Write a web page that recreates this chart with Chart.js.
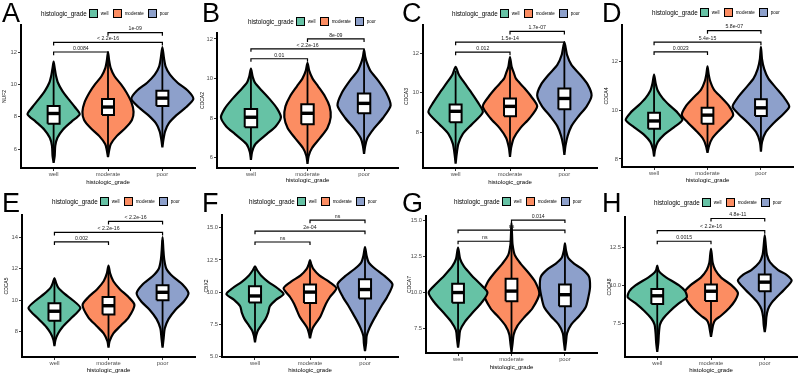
<!DOCTYPE html>
<html>
<head>
<meta charset="utf-8">
<script src="https://cdn.jsdelivr.net/npm/chart.js@4.4.1/dist/chart.umd.min.js"></script>
<style>
  body { margin: 0; background: #fff; width: 803px; height: 381px; position: relative; overflow: hidden;
         font-family: "Liberation Sans", Arial, sans-serif; }
  .panel { position: absolute; }
  .letter { position: absolute; font-size: 27px; line-height: 26px; color: #000; }
  .legend { position: absolute; display: flex; align-items: center; height: 10px; white-space: nowrap; color: #000; }
  .legend .ttl { font-size: 6.3px; margin-right: 2px; }
  .legend .sw { width: 7px; height: 7px; border: 1.5px solid #000; margin-right: 3px; }
  .legend .lab { font-size: 4.5px; margin-right: 4px; }
</style>
</head>
<body>
<script>
const categories = ["well", "moderate", "poor"];
const colours = ["#66C2A5", "#FC8D62", "#8DA0CB"];
const letters = ["A", "B", "C", "D", "E", "F", "G", "H"];
const genes = ["NUF2", "CDCA2", "CDCA3", "CDCA4", "CDCA5", "CBX2", "CDCA7", "CDCA8"];

// y axis limits and tick labels per panel
const yLimits = [[4.83, 13.67], [5.49, 12.3], [6.18, 13.42], [7.67, 13.5], [6.4, 15.4], [4.95, 16.0], [5.83, 15.28], [5.26, 14.5]];
const yTickLabels = [
  ["6", "8", "10", "12"],
  ["6", "8", "10", "12"],
  ["8", "10", "12"],
  ["8", "10", "12"],
  ["8", "10", "12", "14"],
  ["5.0", "7.5", "10.0", "12.5", "15.0"],
  ["7.5", "10.0", "12.5", "15.0"],
  ["7.5", "10.0", "12.5"]
];

// violin outlines: [value, half width]
const violinProfiles = [
  [
    [[5.15,0],[5.6,0.02],[6.2,0.03],[6.7,0.07],[7.2,0.17],[7.7,0.33],[8.15,0.48],[8.6,0.39],[9.1,0.27],[9.6,0.16],[10.1,0.08],[10.6,0.04],[11.0,0.02],[11.4,0]],
    [[5.5,0],[5.9,0.02],[6.3,0.05],[6.8,0.16],[7.3,0.32],[7.8,0.44],[8.3,0.47],[8.9,0.43],[9.5,0.34],[10.0,0.24],[10.5,0.12],[11.0,0.05],[11.5,0.02],[12.0,0]],
    [[6.1,0],[6.6,0.02],[7.1,0.05],[7.6,0.12],[8.1,0.26],[8.6,0.44],[9.1,0.57],[9.6,0.47],[10.1,0.28],[10.6,0.14],[11.1,0.06],[11.6,0.03],[12.3,0]]
  ],
  [
    [[5.9,0],[6.3,0.02],[6.7,0.08],[7.2,0.28],[7.6,0.44],[8.05,0.53],[8.5,0.46],[8.9,0.35],[9.4,0.19],[9.8,0.07],[10.1,0.03],[10.5,0]],
    [[5.7,0],[6.1,0.02],[6.5,0.08],[7.0,0.22],[7.5,0.35],[8.05,0.41],[8.6,0.39],[9.1,0.31],[9.6,0.19],[10.0,0.09],[10.4,0.03],[10.8,0]],
    [[6.2,0],[6.6,0.02],[7.0,0.06],[7.5,0.18],[8.0,0.33],[8.65,0.47],[9.3,0.39],[9.9,0.25],[10.4,0.11],[10.8,0.05],[11.1,0.02],[11.45,0]]
  ],
  [
    [[6.4,0],[6.9,0.02],[7.4,0.05],[7.9,0.13],[8.4,0.3],[9.0,0.5],[9.5,0.41],[10.0,0.29],[10.5,0.16],[10.9,0.06],[11.3,0]],
    [[6.75,0],[7.2,0.02],[7.7,0.07],[8.2,0.19],[8.7,0.36],[9.3,0.5],[9.8,0.39],[10.3,0.24],[10.7,0.11],[11.0,0.07],[11.3,0.03],[11.8,0]],
    [[6.85,0],[7.3,0.02],[7.8,0.06],[8.3,0.13],[8.8,0.26],[9.3,0.41],[9.85,0.5],[10.4,0.43],[10.9,0.29],[11.4,0.13],[11.9,0.05],[12.55,0]]
  ],
  [
    [[8.1,0],[8.4,0.02],[8.7,0.07],[9.0,0.19],[9.3,0.37],[9.6,0.53],[9.9,0.44],[10.2,0.29],[10.5,0.16],[10.8,0.07],[11.1,0.03],[11.46,0]],
    [[8.25,0],[8.55,0.03],[8.85,0.09],[9.15,0.21],[9.5,0.37],[9.8,0.48],[10.15,0.41],[10.5,0.27],[10.85,0.12],[11.2,0.05],[11.5,0.02],[11.8,0]],
    [[8.3,0],[8.7,0.02],[9.1,0.09],[9.5,0.25],[9.85,0.42],[10.15,0.53],[10.5,0.44],[10.9,0.29],[11.3,0.14],[11.7,0.06],[12.1,0.02],[12.6,0]]
  ],
  [
    [[7.1,0],[7.5,0.02],[7.9,0.07],[8.3,0.15],[8.8,0.29],[9.5,0.48],[10.0,0.34],[10.4,0.19],[10.8,0.07],[11.1,0.03],[11.4,0]],
    [[7.0,0],[7.4,0.02],[7.9,0.09],[8.4,0.23],[8.9,0.37],[9.7,0.48],[10.2,0.37],[10.7,0.21],[11.2,0.09],[11.7,0.03],[12.2,0]],
    [[7.0,0],[7.6,0.02],[8.2,0.04],[8.8,0.11],[9.4,0.24],[9.9,0.39],[10.45,0.48],[11.0,0.37],[11.5,0.19],[12.0,0.07],[12.6,0.03],[13.2,0.015],[14.0,0]]
  ],
  [
    [[6.1,0],[6.6,0.02],[7.0,0.05],[7.4,0.11],[7.9,0.19],[8.4,0.24],[8.9,0.27],[9.4,0.38],[9.85,0.52],[10.3,0.41],[10.8,0.24],[11.3,0.11],[11.7,0.04],[12.0,0]],
    [[6.4,0],[6.8,0.02],[7.2,0.05],[7.6,0.11],[8.1,0.19],[8.6,0.24],[9.1,0.29],[9.6,0.36],[10.3,0.48],[10.8,0.35],[11.3,0.17],[11.8,0.06],[12.2,0.02],[12.5,0]],
    [[5.4,0],[6.0,0.02],[6.6,0.03],[7.2,0.08],[7.8,0.15],[8.4,0.23],[9.0,0.31],[9.6,0.4],[10.6,0.5],[11.2,0.37],[11.8,0.19],[12.3,0.07],[12.8,0.03],[13.5,0]]
  ],
  [
    [[6.2,0],[6.8,0.02],[7.4,0.04],[8.0,0.13],[8.6,0.27],[9.3,0.44],[10.0,0.55],[10.6,0.41],[11.2,0.25],[11.8,0.11],[12.3,0.04],[13.1,0]],
    [[5.9,0],[6.5,0.02],[7.1,0.04],[7.7,0.11],[8.3,0.24],[8.9,0.39],[9.9,0.52],[10.7,0.45],[11.4,0.31],[12.0,0.17],[12.6,0.06],[13.3,0.02],[14.0,0.01],[14.8,0]],
    [[6.0,0],[6.6,0.02],[7.2,0.04],[7.8,0.12],[8.4,0.27],[9.0,0.39],[9.7,0.44],[10.4,0.47],[11.1,0.45],[11.6,0.33],[12.0,0.17],[12.4,0.06],[12.9,0.02],[13.4,0]]
  ],
  [
    [[5.6,0],[6.2,0.02],[6.8,0.03],[7.4,0.05],[7.8,0.11],[8.3,0.24],[8.8,0.4],[9.2,0.55],[9.6,0.52],[10.0,0.4],[10.5,0.17],[10.8,0.06],[11.0,0.02],[11.3,0]],
    [[6.6,0],[7.0,0.02],[7.4,0.04],[7.7,0.08],[8.0,0.19],[8.5,0.34],[9.0,0.45],[9.5,0.5],[10.0,0.38],[10.5,0.19],[11.0,0.08],[11.5,0.03],[12.0,0.015],[12.4,0]],
    [[6.9,0],[7.4,0.02],[7.9,0.03],[8.4,0.06],[8.8,0.12],[9.2,0.22],[9.7,0.36],[10.3,0.5],[10.7,0.4],[11.0,0.25],[11.5,0.1],[12.0,0.04],[12.6,0.02],[13.3,0]]
  ]
];

// boxplot: [q1, median, q3] and whisker ends [low, high]
const quartiles = [
  [[7.56, 8.2, 8.67], [8.1, 8.6, 9.1], [8.67, 9.15, 9.6]],
  [[7.55, 8.05, 8.46], [7.7, 8.25, 8.7], [8.25, 8.75, 9.25]],
  [[8.5, 9.05, 9.4], [8.8, 9.3, 9.7], [9.15, 9.7, 10.2]],
  [[9.24, 9.56, 9.9], [9.45, 9.8, 10.1], [9.76, 10.1, 10.45]],
  [[8.7, 9.3, 9.8], [9.1, 9.65, 10.2], [10.0, 10.5, 10.95]],
  [[9.2, 9.7, 10.45], [9.15, 10.0, 10.6], [9.5, 10.2, 11.0]],
  [[9.3, 10.0, 10.6], [9.4, 10.1, 10.95], [9.05, 9.85, 10.55]],
  [[8.75, 9.3, 9.75], [8.95, 9.6, 10.05], [9.6, 10.2, 10.7]]
];
const whiskers = [
  [[5.4, 11.2], [5.7, 11.8], [6.3, 12.1]],
  [[6.0, 10.3], [5.9, 10.6], [6.4, 11.2]],
  [[6.6, 11.1], [6.9, 11.6], [7.0, 12.3]],
  [[8.2, 11.3], [8.35, 11.6], [8.4, 12.4]],
  [[7.2, 11.2], [7.1, 12.0], [7.1, 13.8]],
  [[6.3, 11.8], [6.6, 12.3], [5.6, 13.3]],
  [[6.4, 12.9], [6.1, 14.6], [6.2, 13.2]],
  [[5.8, 11.1], [6.8, 12.2], [7.1, 13.1]]
];

// significance brackets: well-moderate, well-poor, moderate-poor
const bracketPairs = [[1, 2], [1, 3], [2, 3]];
const bracketY = [
  [12.0, 12.6, 13.2], [11.0, 11.5, 12.0], [12.05, 12.55, 13.1], [12.4, 12.8, 13.27],
  [13.7, 14.3, 15.0], [13.9, 14.75, 15.6], [13.54, 14.3, 15.0], [12.9, 13.6, 14.4]
];
const pLabels = [
  ["0.0084", "< 2.2e-16", "1e-09"],
  ["0.01", "< 2.2e-16", "8e-09"],
  ["0.012", "1.5e-14", "1.7e-07"],
  ["0.0023", "5.4e-15", "5.8e-07"],
  ["0.002", "< 2.2e-16", "< 2.2e-16"],
  ["ns", "2e-04", "ns"],
  ["ns", "ns", "0.014"],
  ["0.0015", "< 2.2e-16", "4.8e-11"]
];

// layout of the figure (pixels)
const panelBoxes = [[0,0,200,190],[200,0,200,190],[400,0,200,190],[600,0,203,190],
                    [0,190,200,191],[200,190,200,191],[400,190,200,191],[600,190,203,191]];
const plotAreas = [[21,25,195,168],[217,33,398,168],[423,25,597,168],[622,25,793,167],
                   [22,215,195,357],[222,215,398,357],[426,216,597,353],[625,217,797,357]];
const legendPos = [[41,13],[248,21],[452,13],[652,12],[52,201],[249,201],[454,201],[654,202]];
const yTitlePad = [2, 0, 4, 4, 4, 4, 7, 7];
const xTitlePad = [4.4, 6.4, 4.4, 6.4, 7.4, 7.4, 10.4, 7.4];

const BOX_HALF = 0.11;

const bracketText = {
  id: "bracketText",
  afterDatasetsDraw(chart, args, opts) {
    const ctx = chart.ctx;
    const xs = chart.scales.x, ys = chart.scales.y;
    ctx.save();
    ctx.font = '5.2px "Liberation Sans", Arial, sans-serif';
    ctx.fillStyle = "#222";
    ctx.textAlign = "center";
    ctx.textBaseline = "bottom";
    bracketPairs.forEach((pair, k) => {
      const mid = xs.getPixelForValue((pair[0] + pair[1]) / 2);
      const yy = ys.getPixelForValue(bracketY[opts.panel][k]);
      ctx.fillText(pLabels[opts.panel][k], mid, yy - 1);
    });
    ctx.restore();
  }
};

function violinPoints(profile, c) {
  const pts = profile.map(p => ({ x: c + p[1], y: p[0] }));
  for (let k = profile.length - 2; k >= 0; k--) {
    pts.push({ x: c - profile[k][1], y: profile[k][0] });
  }
  return pts;
}

function buildPanel(i) {
  const [px, py, pw, ph] = panelBoxes[i];
  const [al, at, ar, ab] = plotAreas[i];

  const letter = document.createElement("div");
  letter.className = "letter";
  letter.style.left = (px + 2) + "px";
  letter.style.top = py + "px";
  letter.textContent = letters[i];

  const legend = document.createElement("div");
  legend.className = "legend";
  legend.style.left = legendPos[i][0] + "px";
  legend.style.top = (legendPos[i][1] - 5) + "px";
  let html = '<span class="ttl">histologic_grade</span>';
  categories.forEach((cat, c) => {
    html += '<span class="sw" style="background:' + colours[c] + '"></span><span class="lab">' + cat + "</span>";
  });
  legend.innerHTML = html;

  const canvas = document.createElement("canvas");
  canvas.className = "panel";
  canvas.width = pw;
  canvas.height = ph;
  canvas.style.left = px + "px";
  canvas.style.top = py + "px";
  canvas.style.width = pw + "px";
  canvas.style.height = ph + "px";
  document.body.appendChild(canvas);
  document.body.appendChild(letter);
  document.body.appendChild(legend);

  const [ymin, ymax] = yLimits[i];
  const tip = (ymax - ymin) * 0.022;
  const datasets = [];

  categories.forEach((cat, c) => {
    const x = c + 1;
    datasets.push({
      data: violinPoints(violinProfiles[i][c], x),
      borderColor: "#000", borderWidth: 2.2, backgroundColor: colours[c],
      fill: "shape", tension: 0.25, order: 5
    });
    datasets.push({
      data: [{ x: x, y: whiskers[i][c][0] }, { x: x, y: whiskers[i][c][1] }],
      borderColor: "#000", borderWidth: 1.8, fill: false, tension: 0, order: 4
    });
    const q = quartiles[i][c];
    datasets.push({
      data: [{ x: x - BOX_HALF, y: q[0] }, { x: x + BOX_HALF, y: q[0] }, { x: x + BOX_HALF, y: q[2] },
             { x: x - BOX_HALF, y: q[2] }, { x: x - BOX_HALF, y: q[0] }],
      borderColor: "#000", borderWidth: 2, backgroundColor: "#fff",
      fill: "shape", tension: 0, order: 3
    });
    datasets.push({
      data: [{ x: x - BOX_HALF, y: q[1] }, { x: x + BOX_HALF, y: q[1] }],
      borderColor: "#000", borderWidth: 3.4, fill: false, tension: 0, order: 2
    });
  });

  bracketPairs.forEach((pair, k) => {
    const yb = bracketY[i][k];
    datasets.push({
      data: [{ x: pair[0], y: yb - tip }, { x: pair[0], y: yb }, { x: pair[1], y: yb }, { x: pair[1], y: yb - tip }],
      borderColor: "#000", borderWidth: 1.2, fill: false, tension: 0, order: 1
    });
  });

  const tickVals = yTickLabels[i].map(Number);

  new Chart(canvas, {
    type: "line",
    data: { datasets: datasets },
    plugins: [bracketText],
    options: {
      responsive: false,
      animation: false,
      events: [],
      devicePixelRatio: 1,
      layout: { padding: { left: 0, top: at - py, right: px + pw - ar, bottom: 0 } },
      elements: { point: { radius: 0 } },
      plugins: {
        legend: { display: false },
        tooltip: { enabled: false },
        bracketText: { panel: i }
      },
      scales: {
        x: {
          type: "linear",
          min: 0.4,
          max: 3.6,
          afterFit: s => { s.height = py + ph - ab; },
          afterBuildTicks: s => { s.ticks = categories.map((c, k) => ({ value: k + 1 })); },
          ticks: {
            callback: (v, k) => categories[k],
            autoSkip: false, maxRotation: 0, padding: 0,
            color: "#4d4d4d", font: { size: 5.8, family: '"Liberation Sans", Arial, sans-serif' }
          },
          grid: { drawOnChartArea: false, tickLength: 3, color: "#333", lineWidth: 1 },
          border: { display: true, color: "#000", width: 2 },
          title: {
            display: true, text: "histologic_grade", color: "#000",
            font: { size: 6, family: '"Liberation Sans", Arial, sans-serif' },
            padding: { top: 0, bottom: xTitlePad[i] }
          }
        },
        y: {
          type: "linear",
          min: ymin,
          max: ymax,
          afterFit: s => { s.width = al - px; },
          afterBuildTicks: s => { s.ticks = tickVals.map(v => ({ value: v })); },
          ticks: {
            callback: (v, k) => yTickLabels[i][k],
            padding: 1,
            color: "#4d4d4d", font: { size: 5.8, family: '"Liberation Sans", Arial, sans-serif' }
          },
          grid: { drawOnChartArea: false, tickLength: 3, color: "#333", lineWidth: 1 },
          border: { display: true, color: "#000", width: 2 },
          title: {
            display: true, text: genes[i], color: "#000",
            font: { size: 5, family: '"Liberation Sans", Arial, sans-serif' },
            padding: { top: yTitlePad[i], bottom: 0 }
          }
        }
      }
    }
  });
}

for (let i = 0; i < 8; i++) buildPanel(i);
</script>
</body>
</html>
